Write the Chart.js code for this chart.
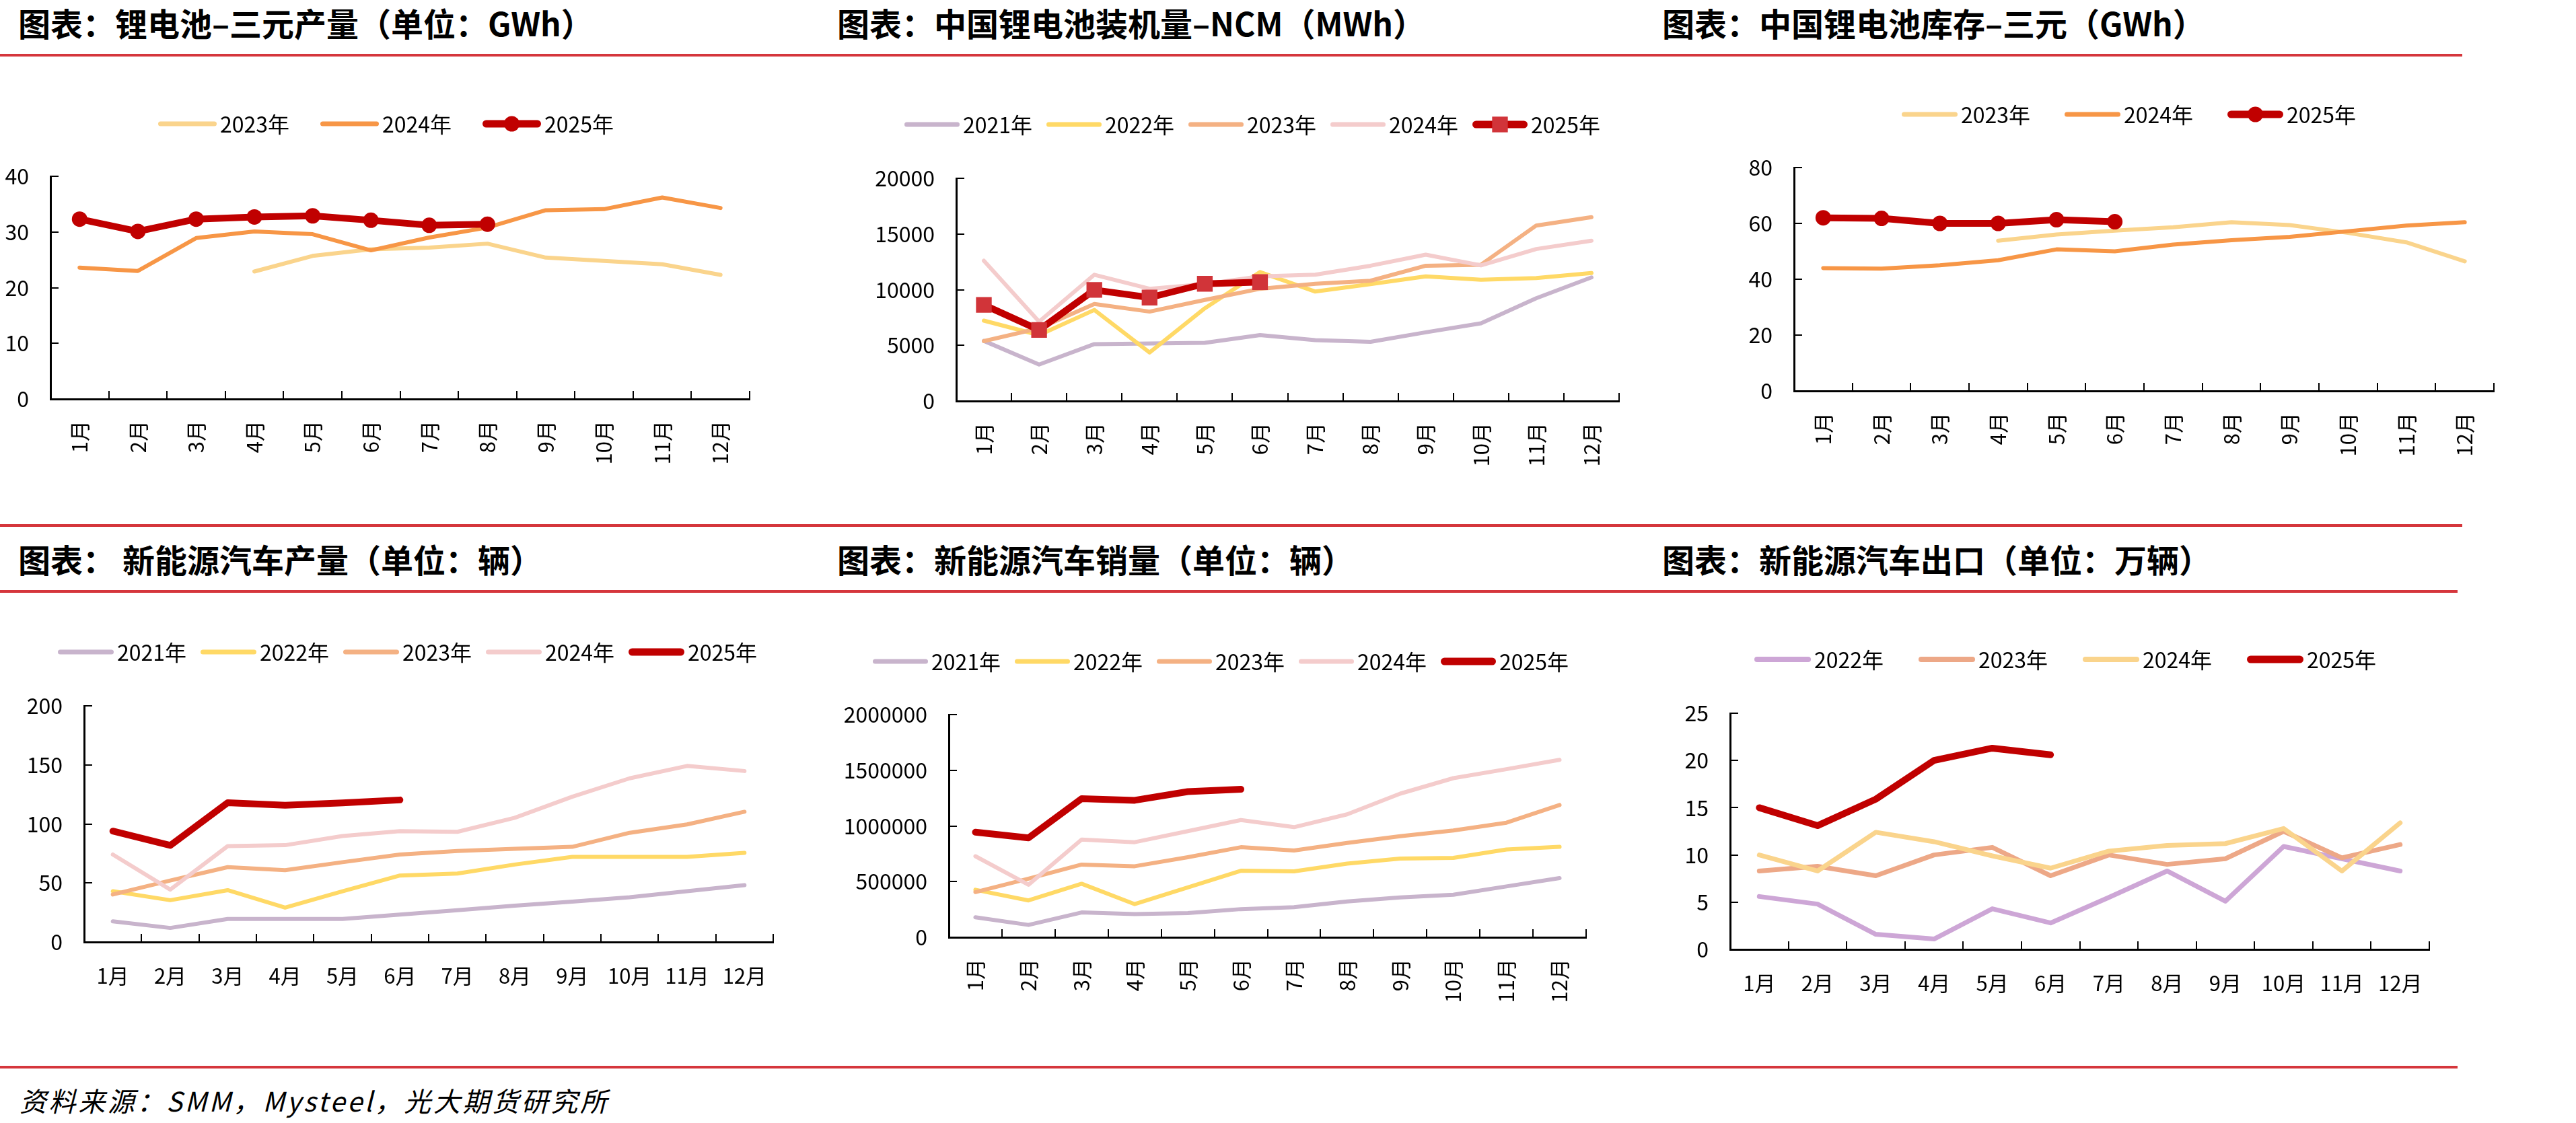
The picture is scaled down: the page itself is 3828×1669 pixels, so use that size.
<!DOCTYPE html>
<html>
<head>
<meta charset="utf-8">
<script src="https://cdn.jsdelivr.net/npm/chart.js@4.4.1/dist/chart.umd.min.js"></script>
<style>
  body { margin: 0; background: #fff; }
  #page { position: relative; width: 3828px; height: 1669px; overflow: hidden; background: #fff; }
  .title { position: absolute; font-family: "Noto Sans CJK SC", sans-serif; font-weight: 700; font-size: 48px; line-height: 60px; color: #000; white-space: pre; }
  .rule { position: absolute; height: 4px; background: #D5363C; }
  .note { position: absolute; font-family: "Noto Sans CJK SC", sans-serif; font-style: italic; font-size: 40px; letter-spacing: 3.6px; line-height: 50px; color: #000; white-space: pre; }
  canvas { position: absolute; }
</style>
</head>
<body>
<div id="page">
  <div class="title" style="left:27px;top:3px">图表：锂电池–三元产量（单位：GWh）</div>
  <div class="title" style="left:1244px;top:3px">图表：中国锂电池装机量–NCM（MWh）</div>
  <div class="title" style="left:2470px;top:3px">图表：中国锂电池库存–三元（GWh）</div>
  <div class="title" style="left:27px;top:800px">图表： 新能源汽车产量（单位：辆）</div>
  <div class="title" style="left:1244px;top:800px">图表：新能源汽车销量（单位：辆）</div>
  <div class="title" style="left:2470px;top:800px">图表：新能源汽车出口（单位：万辆）</div>

  <div class="rule" style="left:0;top:80px;width:3659px"></div>
  <div class="rule" style="left:0;top:779px;width:3659px"></div>
  <div class="rule" style="left:0;top:877px;width:3652px"></div>
  <div class="rule" style="left:0;top:1584px;width:3652px"></div>

  <canvas id="c1" width="1200" height="660" style="left:0;top:100px"></canvas>
  <canvas id="c2" width="1230" height="660" style="left:1230px;top:100px"></canvas>
  <canvas id="c3" width="1300" height="660" style="left:2460px;top:100px"></canvas>
  <canvas id="c4" width="1200" height="660" style="left:0;top:900px"></canvas>
  <canvas id="c5" width="1230" height="660" style="left:1230px;top:900px"></canvas>
  <canvas id="c6" width="1300" height="660" style="left:2460px;top:900px"></canvas>

  <div class="note" style="left:29px;top:1610px">资料来源：SMM，Mysteel，光大期货研究所</div>
</div>
<script>
const MONTHS = ['1月', '2月', '3月', '4月', '5月', '6月', '7月', '8月', '9月', '10月', '11月', '12月'];

// 锂电池-三元产量 (GWh)
const ternaryOut2023 = [null, null, null, 22.9, 25.7, 26.9, 27.2, 27.9, 25.4, 24.8, 24.2, 22.3];
const ternaryOut2024 = [23.6, 23.0, 28.9, 30.1, 29.6, 26.7, 29.0, 30.8, 33.9, 34.1, 36.2, 34.3];
const ternaryOut2025 = [32.3, 30.1, 32.3, 32.7, 32.9, 32.1, 31.2, 31.4];
const ternaryOutTicks = [0, 10, 20, 30, 40];

// 中国锂电池装机量-NCM (MWh)
const ncm2021 = [5400, 3280, 5110, 5170, 5230, 5920, 5470, 5320, 6170, 6980, 9230, 11100];
const ncm2022 = [7220, 5920, 8180, 4360, 8330, 11580, 9830, 10500, 11190, 10890, 11040, 11490];
const ncm2023 = [5380, 6530, 8720, 8030, 9080, 10080, 10530, 10800, 12150, 12240, 15760, 16510];
const ncm2024 = [12600, 7130, 11340, 10080, 10500, 11190, 11340, 12150, 13140, 12180, 13650, 14400];
const ncm2025 = [8630, 6380, 9980, 9290, 10530, 10680];
const ncmTicks = [0, 5000, 10000, 15000, 20000];

// 中国锂电池库存-三元 (GWh)
const stock2023 = [null, null, null, 53.8, 56.0, 57.4, 58.6, 60.4, 59.4, 56.6, 53.2, 46.4];
const stock2024 = [44.0, 43.8, 45.0, 46.8, 50.7, 50.0, 52.4, 54.0, 55.2, 57.2, 59.2, 60.4];
const stock2025 = [62.0, 61.8, 60.0, 60.0, 61.3, 60.6];
const stockTicks = [0, 20, 40, 60, 80];

// 新能源汽车产量
const prod2021 = [17.5, 11.9, 19.5, 19.5, 19.5, 23.2, 26.9, 30.8, 34.2, 37.9, 43.0, 48.1];
const prod2022 = [43.0, 35.4, 43.9, 29.1, 43.0, 56.3, 58.0, 65.6, 72.1, 72.1, 72.1, 75.5];
const prod2023 = [40.2, 52.1, 63.4, 60.8, 67.6, 74.1, 77.0, 78.9, 80.6, 92.5, 99.6, 110.3];
const prod2024 = [74.1, 44.4, 81.2, 82.0, 89.7, 93.9, 93.3, 105.2, 123.0, 138.6, 149.1, 144.8];
const prod2025 = [93.9, 81.8, 118.0, 115.8, 117.8, 120.3];
const prodTicks = [0, 50, 100, 150, 200];

// 新能源汽车销量
const sales2021 = [180000, 111000, 223000, 208000, 217000, 253000, 271000, 322000, 358000, 382000, 457000, 532000];
const sales2022 = [427000, 331000, 481000, 298000, 448000, 598000, 592000, 662000, 707000, 713000, 788000, 812000];
const sales2023 = [406000, 526000, 653000, 638000, 719000, 809000, 779000, 848000, 908000, 959000, 1029000, 1188000];
const sales2024 = [728000, 472000, 878000, 854000, 953000, 1053000, 989000, 1104000, 1290000, 1429000, 1510000, 1594000];
const sales2025 = [944000, 893000, 1245000, 1230000, 1308000, 1329000];
const salesTicks = [0, 500000, 1000000, 1500000, 2000000];

// 新能源汽车出口 (万辆)
const export2022 = [5.6, 4.8, 1.6, 1.1, 4.3, 2.8, 5.5, 8.3, 5.1, 10.9, 9.6, 8.3];
const export2023 = [8.3, 8.8, 7.8, 10.0, 10.8, 7.8, 10.0, 9.0, 9.6, 12.5, 9.7, 11.1];
const export2024 = [10.0, 8.3, 12.4, 11.4, 9.9, 8.6, 10.4, 11.0, 11.2, 12.8, 8.3, 13.4];
const export2025 = [15.0, 13.1, 15.9, 20.0, 21.3, 20.6];
const exportTicks = [0, 5, 10, 15, 20, 25];

const FONT = '"Noto Sans CJK SC", sans-serif';
const C = {
    mauve: '#C8B4CC', yellow: '#FFD966', peach: '#F4B183', pink: '#F4CCCC', red: '#C00000',
    sand: '#FAD48C', orange: '#F79646', lilac: '#CDA6D6', salmon: '#EDA887', marker: '#D13439',
};

function series(label, data, color, opts = {}) {
    return {
        label,
        data,
        borderColor: color,
        backgroundColor: color,
        borderWidth: opts.width || 6,
        pointRadius: opts.radius || 0,
        pointStyle: opts.style || 'circle',
        pointBackgroundColor: opts.markerColor || color,
        pointBorderWidth: 0,
        borderCapStyle: 'round',
        borderJoinStyle: 'round',
        tension: 0,
    };
}

// legend drawn as Excel-like line samples
const lineLegend = {
    id: 'lineLegend',
    afterDraw(chart, args, opts) {
        const ctx = chart.ctx;
        ctx.save();
        ctx.font = `32px ${FONT}`;
        ctx.textBaseline = 'middle';
        chart.data.datasets.forEach((ds, i) => {
            const x0 = opts.x + i * opts.pitch;
            const x1 = x0 + opts.len;
            const y = opts.y;
            ctx.strokeStyle = ds.borderColor;
            ctx.lineWidth = ds.borderWidth + 1;
            ctx.lineCap = 'round';
            ctx.beginPath();
            ctx.moveTo(x0 + ctx.lineWidth / 2, y);
            ctx.lineTo(x1 - ctx.lineWidth / 2, y);
            ctx.stroke();
            if (ds.pointRadius > 0) {
                ctx.fillStyle = ds.pointBackgroundColor;
                const cx = (x0 + x1) / 2;
                if (ds.pointStyle === 'rect') {
                    const h = ds.pointRadius * Math.SQRT1_2;
                    ctx.fillRect(cx - h, y - h, 2 * h, 2 * h);
                } else {
                    ctx.beginPath();
                    ctx.arc(cx, y, ds.pointRadius, 0, Math.PI * 2);
                    ctx.fill();
                }
            }
            ctx.fillStyle = '#000';
            ctx.fillText(ds.label, x1 + 5, y + 1);
        });
        ctx.restore();
    }
};

function makeChart(id, cfg, datasets) {
    datasets.forEach((ds, i) => { ds.order = datasets.length - i; });
    const ticks = cfg.ticks;
    return new Chart(document.getElementById(id).getContext('2d'), {
        type: 'line',
        data: { labels: MONTHS, datasets },
        plugins: [lineLegend],
        options: {
            responsive: false,
            animation: false,
            events: [],
            devicePixelRatio: 1,
            layout: { padding: { left: 0, top: cfg.padTop, right: cfg.padRight, bottom: 0 } },
            scales: {
                x: {
                    offset: true,
                    ticks: {
                        autoSkip: false,
                        minRotation: cfg.rotate ? 90 : 0,
                        maxRotation: cfg.rotate ? 90 : 0,
                        padding: 44,
                        color: '#000',
                        font: { family: FONT, size: 31 },
                    },
                    grid: { offset: true, drawOnChartArea: false, tickLength: -12, color: '#000', lineWidth: 2 },
                    border: { color: '#000', width: 3 },
                    afterFit: s => { s.height = cfg.xHeight; },
                },
                y: {
                    min: ticks[0],
                    max: ticks[ticks.length - 1],
                    afterBuildTicks: s => { s.ticks = ticks.map(v => ({ value: v })); },
                    ticks: {
                        padding: 44,
                        color: '#000',
                        font: { family: FONT, size: 32 },
                        callback: v => String(v),
                    },
                    grid: { drawOnChartArea: false, tickLength: -12, color: '#000', lineWidth: 2 },
                    border: { color: '#000', width: 3 },
                    afterFit: s => { s.width = cfg.yWidth; },
                },
            },
            plugins: {
                legend: { display: false },
                tooltip: { enabled: false },
                lineLegend: cfg.legend,
            },
        },
    });
}

makeChart('c1', {
    yWidth: 75, padTop: 162, padRight: 86, xHeight: 167, rotate: true, ticks: ternaryOutTicks,
    legend: { x: 235, y: 84, len: 87, pitch: 241 },
}, [
    series('2023年', ternaryOut2023, C.sand),
    series('2024年', ternaryOut2024, C.orange),
    series('2025年', ternaryOut2025, C.red, { width: 10, radius: 11.5 }),
]);

makeChart('c2', {
    yWidth: 191, padTop: 165, padRight: 54, xHeight: 164, rotate: true, ticks: ncmTicks,
    legend: { x: 114, y: 85, len: 82, pitch: 211 },
}, [
    series('2021年', ncm2021, C.mauve),
    series('2022年', ncm2022, C.yellow),
    series('2023年', ncm2023, C.peach),
    series('2024年', ncm2024, C.pink),
    series('2025年', ncm2025, C.red, { width: 10, radius: 16.5, style: 'rect', markerColor: C.marker }),
]);

makeChart('c3', {
    yWidth: 206, padTop: 149, padRight: 54, xHeight: 179, rotate: true, ticks: stockTicks,
    legend: { x: 366, y: 70, len: 83, pitch: 242 },
}, [
    series('2023年', stock2023, C.sand),
    series('2024年', stock2024, C.orange),
    series('2025年', stock2025, C.red, { width: 10, radius: 11.5 }),
]);

makeChart('c4', {
    yWidth: 125, padTop: 149, padRight: 51, xHeight: 160, rotate: false, ticks: prodTicks,
    legend: { x: 86, y: 69, len: 83, pitch: 212 },
}, [
    series('2021年', prod2021, C.mauve),
    series('2022年', prod2022, C.yellow),
    series('2023年', prod2023, C.peach),
    series('2024年', prod2024, C.pink),
    series('2025年', prod2025, C.red, { width: 10 }),
]);

makeChart('c5', {
    yWidth: 180, padTop: 162, padRight: 103, xHeight: 167, rotate: true, ticks: salesTicks,
    legend: { x: 67, y: 83, len: 82, pitch: 211 },
}, [
    series('2021年', sales2021, C.mauve),
    series('2022年', sales2022, C.yellow),
    series('2023年', sales2023, C.peach),
    series('2024年', sales2024, C.pink),
    series('2025年', sales2025, C.red, { width: 10 }),
]);

makeChart('c6', {
    yWidth: 111, padTop: 160, padRight: 150, xHeight: 149, rotate: false, ticks: exportTicks,
    legend: { x: 147, y: 80, len: 84, pitch: 244 },
}, [
    series('2022年', export2022, C.lilac, { width: 7 }),
    series('2023年', export2023, C.salmon, { width: 7 }),
    series('2024年', export2024, C.sand, { width: 7 }),
    series('2025年', export2025, C.red, { width: 10 }),
]);
</script>
</body>
</html>
